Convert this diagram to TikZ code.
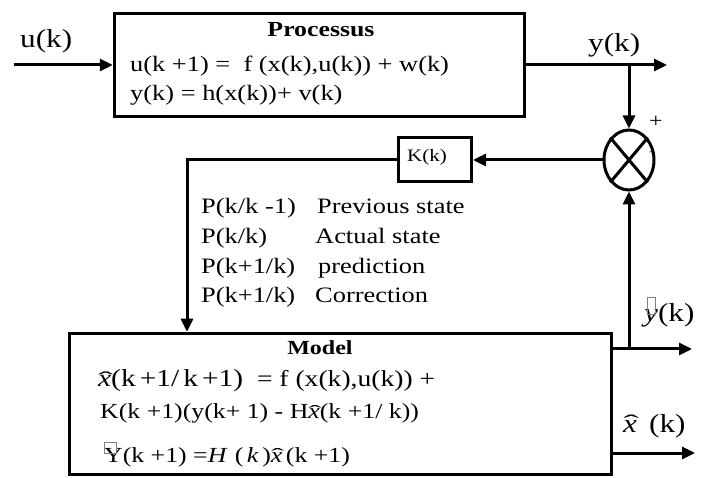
\documentclass[tikz,border=0pt]{standalone}
\usepackage{fontspec}
\usepackage{graphicx}
\setmainfont{Liberation Serif}[FakeStretch=1.2]
\usetikzlibrary{arrows.meta,shapes.geometric}

% font size helper
\newcommand\fsz[1]{\fontsize{#1}{#1}\selectfont}
% x with a wide hat
\newcommand\hatx{{\ooalign{\textit{x}\cr\hidewidth\kern0.08em\raisebox{0.08em}{\scalebox{1.5}[0.8]{\symbol{"02C6}}}\hidewidth\cr}}}
% empty glyph box
\newcommand\emptyglyph[2]{\textcolor{gray}{\fboxsep=0pt\fboxrule=0.5pt\fbox{\rule{0pt}{#2}\hspace{#1}}}}

\begin{document}
\begin{tikzpicture}[x=1pt,y=-1pt,
  wire/.style={line width=3pt},
  flow/.style={line width=3pt,-{Triangle[length=13pt,width=12pt]}},
  blockbox/.style={draw,line width=3.5pt,inner sep=0,rectangle},
  txt/.style={inner sep=0,anchor=base west},
  ctxt/.style={inner sep=0,anchor=base}]
\useasboundingbox (0,0) rectangle (702,478);

% blocks
\node[blockbox,minimum width=410pt,minimum height=103pt] (proc) at (319.5,65) {};
\node[blockbox,line width=3pt,minimum width=73pt,minimum height=44pt] (kbox) at (435,160) {};
\node[blockbox,minimum width=542pt,minimum height=141pt] (model) at (340.5,404) {};
\node[draw,ellipse,line width=3pt,inner sep=0,minimum width=50pt,minimum height=60pt] (sum) at (629,160) {};
\draw[wire] (sum.130) -- (sum.310);
\draw[wire] (sum.50) -- (sum.230);

% connection points
\coordinate (uin) at (14,65);
\coordinate (yout) at (667,65);
\coordinate (ybr) at (629,65);
\coordinate (kc) at (187,160);
\coordinate (yhout) at (692,349);
\coordinate (xhout) at (695,453);

% connectors
\draw[flow] (uin) -- (proc);
\draw[flow] (proc) -- (yout);
\draw[flow] (ybr) -- (sum);
\draw[flow] (sum) -- (kbox);
\draw[flow] (kbox) -- (kc) -- (kc |- model.north);
\draw[flow] (model.east |- yhout) -- (yhout);
\draw[flow] (sum.south |- yhout) -- (sum);
\draw[flow] (model.east |- xhout) -- (xhout);

% process texts
\node[txt,font=\fsz{26}] (ulab) at (20,48) {u(k)};
\node[ctxt,font=\fsz{21.5}\bfseries] (ptitle) at (321,37) {Processus};
\node[txt,font=\fsz{22}] (pl1) at (130,72) {u(k +1) =\ \ f (x(k),u(k)) + w(k)};
\node[txt,font=\fsz{22}] (pl2) at (130,101) {y(k) = h(x(k))+ v(k)};
\node[txt,font=\fsz{26}] (ylab) at (588,52) {y(k)};

% summing junction signs
\node[font=\fsz{20},inner sep=0] (plus) at (656,122) {+};
\node[font=\fsz{9},inner sep=0] (minus) at (651,153) {-};

% gain
\node[txt,font=\fsz{17.5}] (klab) at (407,162) {K(k)};

% covariance legend
\node[txt,font=\fsz{22}] (c1a) at (201,214) {P(k/k -1)};
\node[txt,font=\fsz{22}] (c1b) at (317,214) {Previous state};
\node[txt,font=\fsz{22}] (c2a) at (201,244) {P(k/k)};
\node[txt,font=\fsz{22}] (c2b) at (315,244) {Actual state};
\node[txt,font=\fsz{22}] (c3a) at (201,274) {P(k+1/k)};
\node[txt,font=\fsz{22}] (c3b) at (318,274) {prediction};
\node[txt,font=\fsz{22}] (c4a) at (201,303) {P(k+1/k)};
\node[txt,font=\fsz{22}] (c4b) at (315,303) {Correction};

% model texts
\node[ctxt,font=\fsz{20}\bfseries] (mtitle) at (320,355) {Model};
\node[txt,font=\fsz{23}] (ml1) at (98,387) {{\fsz{24.5}\hatx(k\,+1/\,k\,+1)}\ \ = f (x(k),u(k)) +};
\node[txt,font=\fsz{21.5}] (ml2) at (100,419) {K(k +1)(y(k+ 1) - H\hatx(k +1/ k))};
\node[txt,font=\fsz{21.5}] (ml3) at (104,462) {{\ooalign{Y\cr\raisebox{0.4em}{\emptyglyph{11pt}{11pt}}\hidewidth\cr}}(k +1) =\textit{H}\,\,(\,\textit{k}\,)\hatx\,(k +1)};

% outputs
\node[txt,font=\fsz{26}] (yhlab) at (644,322) {{\ooalign{\textit{y}\cr\hidewidth\raisebox{0.3em}{\emptyglyph{8pt}{17pt}}\hidewidth\cr}}(k)};
\node[txt,font=\fsz{26}] (xhlab) at (623,432) {\hatx\ \,(k)};
\end{tikzpicture}
\end{document}
